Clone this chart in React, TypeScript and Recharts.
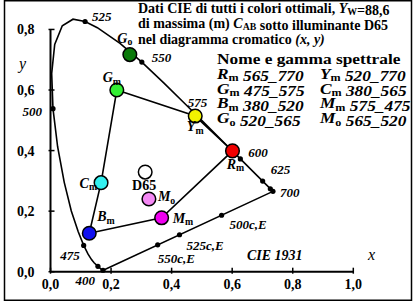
import { ComposedChart, Line, Scatter, XAxis, YAxis, ReferenceLine } from 'recharts'

const SERIF = '"Liberation Serif", "Times New Roman", serif'

// CIE 1931 spectral locus (nm, x, y)
const locusWl = [380, 400, 420, 440, 450, 460, 465, 470, 475, 480, 485, 490, 495, 500, 505, 510, 515, 520, 525, 530, 540, 550, 560, 570, 575, 580, 590, 600, 610, 620, 625, 640, 650, 700]
const locusX = [0.1741, 0.1733, 0.1714, 0.1644, 0.1566, 0.144, 0.1355, 0.1241, 0.1096, 0.0913, 0.0687, 0.0454, 0.0235, 0.0082, 0.0039, 0.0139, 0.0389, 0.0743, 0.1142, 0.1547, 0.2296, 0.3016, 0.3731, 0.4441, 0.4788, 0.5125, 0.5752, 0.627, 0.6658, 0.6915, 0.7006, 0.719, 0.726, 0.7347]
const locusY = [0.005, 0.0048, 0.0051, 0.0109, 0.0177, 0.0297, 0.0399, 0.0578, 0.0868, 0.1327, 0.2007, 0.295, 0.4127, 0.5384, 0.6548, 0.7502, 0.812, 0.8338, 0.8262, 0.8059, 0.7543, 0.6923, 0.6245, 0.5547, 0.5202, 0.4866, 0.4242, 0.3725, 0.334, 0.3083, 0.2993, 0.2809, 0.274, 0.2653]

// marked wavelengths on the locus
const markWl = [400, 450, 475, 500, 525, 550, 575, 600, 625, 650, 700]
const markLabel = ['400', '', '475', '500', '525', '550', '575', '600', '625', '', '700']

// marks on the purple line (complementary wavelengths)
const compNames = ['500c,E', '525c,E', '550c,E']
const compX = [0.565, 0.426, 0.354]
const compY = [0.1865, 0.122, 0.0886]

// optimal colours
const optNames = ['Gm', 'Ym', 'Rm', 'Mm', 'Bm', 'Cm', 'Go', 'Mo', 'D65']
const optX = [0.219, 0.478, 0.601, 0.367, 0.128, 0.167, 0.262, 0.325, 0.3127]
const optY = [0.6, 0.514, 0.399, 0.178, 0.127, 0.294, 0.717, 0.24, 0.329]
const optFill = ['#33ee33', '#f2f200', '#f00000', '#f000f0', '#1010f0', '#33f0f0', '#0a7a0a', '#f488f4', '#ffffff']

// hexagon of maximum chroma colours
const hexOrder = ['Gm', 'Ym', 'Rm', 'Mm', 'Bm', 'Cm', 'Gm']

const xTicks = [0, 0.2, 0.4, 0.6, 0.8, 1.0]
const yTicks = [0, 0.2, 0.4, 0.6, 0.8]

const legendRows = [
  ['Rm', '565_770', 'Ym', '520_770'],
  ['Gm', '475_575', 'Cm', '380_565'],
  ['Bm', '380_520', 'Mm', '575_475'],
  ['Go', '520_565', 'Mo', '565_520'],
]

const locusData = [...locusWl, 380].map((wl) => {
  const i = locusWl.indexOf(wl)
  return { wl, x: locusX[i], y: locusY[i] }
})
const markData = markWl.map((wl, k) => {
  const i = locusWl.indexOf(wl)
  return { label: markLabel[k], x: locusX[i], y: locusY[i] }
}).concat(compNames.map((n, i) => ({ label: n, x: compX[i], y: compY[i] })))
const optData = optNames.map((n, i) => ({ name: n, x: optX[i], y: optY[i], fill: optFill[i] }))
const hexData = hexOrder.map((n) => optData.find((d) => d.name === n))

// label placement (px offsets from the point, baseline)
const markPos: Record<string, [number, number, string]> = {
  '400': [-8, 15, 'end'],
  '475': [-4, 15, 'end'],
  '500': [-11, 7, 'end'],
  '525': [7, -1, 'start'],
  '550': [10, 0, 'start'],
  '575': [2, -7, 'middle'],
  '600': [8, -2, 'start'],
  '625': [8, -7, 'start'],
  '700': [7, 6, 'start'],
  '500c,E': [8, 14, 'start'],
  '525c,E': [7, 15, 'start'],
  '550c,E': [0, 18, 'start'],
}
const optPos: Record<string, [number, number, string]> = {
  Go: [-5, -12, 'middle'],
  Gm: [-5, -8, 'middle'],
  Ym: [0, 15, 'middle'],
  Rm: [3, 18, 'middle'],
  Cm: [-4, 5, 'end'],
  D65: [-1, 18, 'middle'],
  Mo: [9, 2, 'start'],
  Bm: [8, -12, 'start'],
  Mm: [11, 5, 'start'],
}

function Sub({ main, sub, size, italicMain = true }: { main: string; sub: string; size: number; italicMain?: boolean }) {
  return (
    <>
      <tspan fontStyle={italicMain ? 'italic' : 'normal'}>{main}</tspan>
      <tspan fontStyle="normal" fontSize={size * 0.7} dy={2.5}>{sub}</tspan>
      <tspan dy={-2.5}>{''}</tspan>
    </>
  )
}

function MarkDot(props: any) {
  const { cx, cy, payload } = props
  const pos = markPos[payload.label]
  return (
    <g>
      <circle cx={cx} cy={cy} r={2.6} fill="#000" />
      {pos && (
        <text x={cx + pos[0]} y={cy + pos[1]} textAnchor={pos[2] as any} fontFamily={SERIF} fontWeight="bold" fontStyle="italic" fontSize={13}>
          {payload.label}
        </text>
      )}
    </g>
  )
}

function OptDot(props: any) {
  const { cx, cy, payload } = props
  const pos = optPos[payload.name]
  const n: string = payload.name
  return (
    <g>
      <circle cx={cx} cy={cy} r={6.8} fill={payload.fill} stroke="#000" strokeWidth={1.5} />
      <text x={cx + pos[0]} y={cy + pos[1]} textAnchor={pos[2] as any} fontFamily={SERIF} fontWeight="bold" fontSize={14}>
        {n === 'D65' ? 'D65' : <Sub main={n[0]} sub={n.slice(1)} size={14} />}
      </text>
    </g>
  )
}

function XTick(props: any) {
  const { x, y, payload } = props
  return (
    <g>
      <line x1={x} x2={x} y1={y - 4} y2={y + 2} stroke="#000" strokeWidth={1.5} />
      <text x={x} y={y + 17} textAnchor="middle" fontFamily={SERIF} fontWeight="bold" fontSize={14}>
        {payload.value.toFixed(1).replace('.', ',')}
      </text>
    </g>
  )
}

function YTick(props: any) {
  const { x, y, payload } = props
  return (
    <g>
      <line x1={x - 2} x2={x + 4} y1={y} y2={y} stroke="#000" strokeWidth={1.5} />
      <text x={x - 16} y={y + 5} textAnchor="end" fontFamily={SERIF} fontWeight="bold" fontSize={14}>
        {payload.value.toFixed(1).replace('.', ',')}
      </text>
    </g>
  )
}

export default function App() {
  const fs = 14
  return (
    <div style={{ position: 'absolute', left: 0, top: 0, width: 413, height: 302, background: '#fff' }}>
      <ComposedChart width={413} height={302} margin={{ top: 2.2, right: 59.7, bottom: 0.3, left: 0.5 }}>
        <XAxis type="number" dataKey="x" domain={[0, 1]} ticks={xTicks} height={30} tickSize={0} tickMargin={0}
          tickLine={false} axisLine={{ stroke: '#000', strokeWidth: 2 }} tick={<XTick />} interval={0} />
        <YAxis type="number" dataKey="y" domain={[0, 0.89]} ticks={yTicks} width={50} tickSize={0} tickMargin={0}
          tickLine={false} axisLine={false} tick={<YTick />} interval={0} />
        <ReferenceLine segment={[{ x: 0, y: 0 }, { x: 0, y: 0.8 }]} stroke="#000" strokeWidth={2} ifOverflow="visible" />
        <Line data={locusData} dataKey="y" type="linear" stroke="#000" strokeWidth={1.6} dot={false} isAnimationActive={false} />
        <Line data={hexData} dataKey="y" type="linear" stroke="#000" strokeWidth={1.6} dot={false} isAnimationActive={false} />
        <Scatter data={markData} dataKey="y" shape={<MarkDot />} isAnimationActive={false} />
        <Scatter data={optData} dataKey="y" shape={<OptDot />} isAnimationActive={false} />
      </ComposedChart>
      <svg width={413} height={302} style={{ position: 'absolute', left: 0, top: 0, pointerEvents: 'none' }}>
        <rect x={4.5} y={0.75} width={407} height={299.5} fill="none" stroke="#000" strokeWidth={1.5} />
        <g fontFamily={SERIF} fontWeight="bold" fontSize={fs} style={{ whiteSpace: 'pre' }}>
          <text x={138} y={12.5}>
            Dati CIE di tutti i colori ottimali, <Sub main="Y" sub="W" size={fs} />=88,6
          </text>
          <text x={138} y={27.5}>
            di massima (m) <Sub main="C" sub="AB" size={fs} /> sotto illuminante D65
          </text>
          <text x={138} y={43.5}>
            nel diagramma cromatico <tspan fontStyle="italic">(x, y)</tspan>
          </text>
          <g transform="translate(217 0) scale(1.24 1)">
            <text x={0} y={64}>Nome e gamma spettrale</text>
            {legendRows.map((r, i) => (
              <g key={i}>
                <text x={0} y={79 + i * 14.7}>
                  <Sub main={r[0][0]} sub={r[0].slice(1)} size={fs} />
                  <tspan fontStyle="italic"> {r[1]}</tspan>
                </text>
                <text x={83} y={79 + i * 14.7}>
                  <Sub main={r[2][0]} sub={r[2].slice(1)} size={fs} />
                  <tspan fontStyle="italic"> {r[3]}</tspan>
                </text>
              </g>
            ))}
          </g>
          <text x={247} y={260} fontStyle="italic">CIE 1931</text>
        </g>
        <text x={368} y={260} fontFamily={SERIF} fontStyle="italic" fontSize={16}>x</text>
        <text x={19} y={69} fontFamily={SERIF} fontStyle="italic" fontSize={16}>y</text>
      </svg>
    </div>
  )
}
